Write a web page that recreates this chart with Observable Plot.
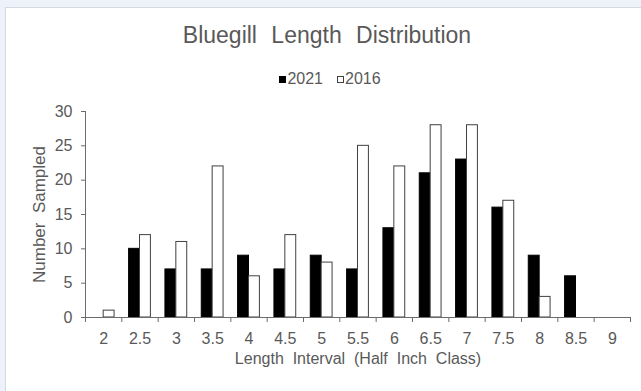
<!DOCTYPE html>
<html>
<head>
<meta charset="utf-8">
<script src="https://cdn.jsdelivr.net/npm/d3@7"></script>
<script src="https://cdn.jsdelivr.net/npm/@observablehq/plot@0.6"></script>
<style>
  html, body { margin: 0; padding: 0; }
  body { width: 641px; height: 391px; background: #edf2fa; position: relative; overflow: hidden;
         font-family: "Liberation Sans", Arial, sans-serif; color: #595959; }
  #panel { position: absolute; left: 5px; top: 7px; width: 640px; height: 390px; background: #fff;
           border-left: 1px solid #d6d9de; border-top: 1px solid #d6d9de; }
  #chart { position: absolute; left: 0; top: 0; }
  #title { position: absolute; left: 0; width: 654px; top: 24px; text-align: center; font-size: 23px;
           line-height: 23px; word-spacing: 8px; color: #595959; }
  #legend { position: absolute; left: 0; width: 660px; top: 71px; display: flex; justify-content: center;
            font-size: 16px; line-height: 16px; color: #595959; }
  .item { display: flex; align-items: center; margin: 0 7px; }
  .sw { width: 7px; height: 7px; margin-right: 1px; box-sizing: border-box; }
</style>
</head>
<body>
<div id="panel"></div>
<div id="chart"></div>
<div id="title">Bluegill Length Distribution</div>
<div id="legend"></div>
<script>
// Data
const categories = [2, 2.5, 3, 3.5, 4, 4.5, 5, 5.5, 6, 6.5, 7, 7.5, 8, 8.5, 9];
const counts2021 = [0, 10, 7, 7, 9, 7, 9, 7, 13, 21, 23, 16, 9, 6, 0];
const counts2016 = [1, 12, 11, 22, 6, 12, 8, 25, 22, 28, 28, 17, 3, 0, 0];
const yTicks = [0, 5, 10, 15, 20, 25, 30];
const seriesNames = ["2021", "2016"];
const seriesFill = ["#000000", "#ffffff"];
const seriesStroke = ["#000000", "#404040"];

const half = 0.25;      // half of a class step (0.5 in)
const barW = 0.15;      // bar width in x units
const rows = categories.map((c, i) => ({len: c, n2021: counts2021[i], n2016: counts2016[i]}));
const boundaries = categories.map(c => c - half).concat([categories[categories.length - 1] + half]);
const xDomain = [boundaries[0], boundaries[boundaries.length - 1]];

const ink = "#595959";
const axisInk = "#6b6b6b";

const chart = Plot.plot({
  width: 641,
  height: 391,
  marginLeft: 85,
  marginRight: 11,
  marginTop: 111,
  marginBottom: 74,
  style: {background: "transparent", fontFamily: "'Liberation Sans', Arial, sans-serif", color: ink},
  x: {type: "linear", domain: xDomain},
  y: {domain: [0, 30]},
  marks: [
    Plot.rectY(rows.filter(d => d.n2021 > 0), {x1: d => d.len - barW, x2: d => d.len, y: "n2021",
      fill: seriesFill[0], stroke: seriesStroke[0], strokeWidth: 1}),
    Plot.rectY(rows.filter(d => d.n2016 > 0), {x1: d => d.len, x2: d => d.len + barW, y: "n2016",
      fill: seriesFill[1], stroke: seriesStroke[1], strokeWidth: 1}),
    Plot.ruleX([xDomain[0]], {stroke: axisInk}),
    Plot.ruleY([0], {stroke: axisInk}),
    Plot.axisY({ticks: yTicks, tickSize: 4, tickPadding: 9, fontSize: 16, label: null, stroke: axisInk, color: ink}),
    Plot.axisX({ticks: boundaries, tickSize: 5, tickFormat: () => "", label: null, stroke: axisInk}),
    Plot.axisX({ticks: categories, tickSize: 0, tickPadding: 15, fontSize: 16, label: null, tickFormat: d => String(d), color: ink}),
    Plot.text(["Length  Interval  (Half  Inch  Class)"], {text: d => d, frameAnchor: "bottom", textAnchor: "middle", dy: 46, fontSize: 16, fill: ink}),
    Plot.text(["Number  Sampled"], {text: d => d, frameAnchor: "left", textAnchor: "middle", rotate: -90, dx: -46, fontSize: 17, fill: ink})
  ]
});
document.getElementById("chart").appendChild(chart);

const legend = document.getElementById("legend");
seriesNames.forEach((name, i) => {
  const item = document.createElement("div");
  item.className = "item";
  const sw = document.createElement("div");
  sw.className = "sw";
  sw.style.background = seriesFill[i];
  sw.style.border = "1px solid " + seriesStroke[i];
  const t = document.createElement("span");
  t.textContent = name;
  item.appendChild(sw);
  item.appendChild(t);
  legend.appendChild(item);
});
</script>
</body>
</html>
